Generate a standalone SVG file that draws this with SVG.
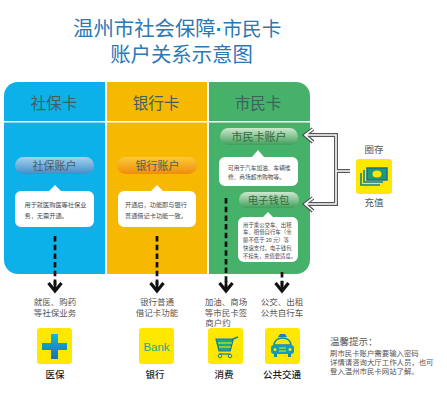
<svg xmlns="http://www.w3.org/2000/svg" width="447" height="400" viewBox="0 0 447 400">
<style>
text{font-family:"Noto Sans CJK SC","Liberation Sans",sans-serif;text-anchor:middle}
.title{font-size:20.4px;fill:#2b78b4}
.head{font-size:15.5px;fill:#3f5f62}
.pill{font-size:11px;fill:#4b5f63}
.body{font-size:6.2px;fill:#4a4a4a;text-anchor:start}
.lab{font-size:8.5px;fill:#555}
.name{font-size:9.5px;fill:#222;font-weight:500}
.tip{font-size:7.4px;fill:#555;text-anchor:start}
.box{fill:#fff}
.ico{fill:#ffe800}
.dash{fill:none;stroke:#111;stroke-width:2.7;stroke-dasharray:5.5 3.2;marker-end:url(#chev)}
.outer{fill:none;stroke:#555;stroke-width:4}
.inner{fill:none;stroke:#fff;stroke-width:1.6}
</style>
<defs>
<marker id="chev" markerUnits="userSpaceOnUse" markerWidth="18" markerHeight="18" refX="14" refY="9" orient="auto" overflow="visible">
<path d="M6 2.5L14 9L6 15.5" fill="none" stroke="#111" stroke-width="3.2"/>
<path d="M4 9H13" stroke="#111" stroke-width="2.7"/>
</marker>
<linearGradient id="gb" x1="0" y1="0" x2="0" y2="1"><stop offset="0" stop-color="#a5d2ee"/><stop offset="1" stop-color="#3f8fc9"/></linearGradient>
<linearGradient id="go" x1="0" y1="0" x2="0" y2="1"><stop offset="0" stop-color="#fbc93a"/><stop offset="1" stop-color="#f08c0a"/></linearGradient>
<linearGradient id="gg" x1="0" y1="0" x2="0" y2="1"><stop offset="0" stop-color="#cfe8cf"/><stop offset="1" stop-color="#3f9f5a"/></linearGradient>
<linearGradient id="gp" x1="0" y1="0" x2="0" y2="1"><stop offset="0" stop-color="#14b4e6"/><stop offset="1" stop-color="#1273b3"/></linearGradient>
</defs>

<g id="title">
<text class="title" x="73" y="35.5" style="text-anchor:start">温州市社会保障<tspan style="font-family:'Liberation Sans',sans-serif;font-weight:700">·</tspan><tspan style="font-size:19.6px">市民卡</tspan></text>
<text class="title" x="181.500" y="61.500">账户关系示意图</text>
</g>

<g id="node-social">
<path d="M4 96a14 14 0 0 1 14-14H105V274H18a14 14 0 0 1-14-14Z" fill="#0db1e9"/>
<rect x="4" y="121" width="101" height="1.500" fill="#fff"/>
<text class="head" x="54" y="108.500">社保卡</text>
<rect x="15" y="157" width="79" height="17" rx="8.500" fill="url(#gb)"/>
<text class="pill" x="54.500" y="169.500">社保账户</text>
<path class="box" d="M21 191H49L55 185L61 191H88a6 6 0 0 1 6 6V221a6 6 0 0 1-6 6H21a6 6 0 0 1-6-6V197a6 6 0 0 1 6-6Z"/>
<text class="body" y="207"><tspan x="24.500">用于就医购医等社保业</tspan><tspan x="24.500" dy="10.5">务，无需开通。</tspan></text>
</g>

<g id="node-bank">
<rect x="107" y="82" width="100" height="192" fill="#f6b800"/>
<rect x="107" y="121" width="100" height="1.500" fill="#fff"/>
<text class="head" x="156" y="108.500">银行卡</text>
<rect x="117" y="157" width="80" height="17" rx="8.500" fill="url(#go)"/>
<text class="pill" x="157.500" y="169.500">银行账户</text>
<path class="box" d="M124 191H151L157 185L163 191H190a6 6 0 0 1 6 6V221a6 6 0 0 1-6 6H124a6 6 0 0 1-6-6V197a6 6 0 0 1 6-6Z"/>
<text class="body" y="207"><tspan x="125">开通后，功能即与银行</tspan><tspan x="125" dy="10.5">普通借记卡功能一致。</tspan></text>
</g>

<g id="node-citizen">
<path d="M209 82H296a14 14 0 0 1 14 14V260a14 14 0 0 1-14 14H209Z" fill="#46b168"/>
<rect x="209" y="121" width="101" height="1.500" fill="#fff"/>
<text class="head" x="258" y="108.500">市民卡</text>
<rect x="220" y="128" width="78" height="17" rx="8.500" fill="url(#gg)"/>
<text class="pill" x="259" y="140.500" style="fill:#35683f">市民卡账户</text>
<path class="box" d="M225 157H252L258 150L264 157H292a6 6 0 0 1 6 6V180a6 6 0 0 1-6 6H225a6 6 0 0 1-6-6V163a6 6 0 0 1 6-6Z"/>
<text class="body" y="170" style="font-size:5.700px"><tspan x="228">可用于汽车加油、车辆维</tspan><tspan x="228" dy="8.5">修、商场超市购物等。</tspan></text>
<rect x="239" y="192" width="60" height="16" rx="8" fill="url(#gg)"/>
<text class="pill" x="268.500" y="204" style="font-size:10.400px;fill:#35683f">电子钱包</text>
<path class="box" d="M244 217H263L268 212L273 217H292a6 6 0 0 1 6 6V256a6 6 0 0 1-6 6H244a6 6 0 0 1-6-6V223a6 6 0 0 1 6-6Z"/>
<text class="body" y="226.500" style="font-size:5.400px"><tspan x="243">用于乘公交车、出租</tspan><tspan x="243" dy="7.8">车、租借自行车（余</tspan><tspan x="243" dy="7.8">额不低于 20 元）等</tspan><tspan x="243" dy="7.8">快速支付。电子钱包</tspan><tspan x="243" dy="7.8" style="font-size:5.300px">不挂失，充值要适度。</tspan></text>
</g>

<g id="connectors">
<path class="dash" d="M55 236V291"/>
<path class="dash" d="M157 236V291"/>
<path class="dash" d="M226 198V291"/>
<path class="dash" d="M282 272V291"/>
<path class="outer" d="M313 129L305 135L313 142M305 135H336V204H305M313 198L305 204L313 211M336 171H350"/>
<path class="inner" d="M313 129L305 135L313 142M305 135H336V204H305M313 198L305 204L313 211M336 171H350"/>
</g>

<g id="node-recharge">
<text class="lab" x="374" y="152.500" style="font-size:9.500px">圈存</text>
<rect class="ico" x="356" y="159" width="36" height="35" rx="3"/>
<path d="M361 173V185H380" fill="none" stroke="#0f7fa8" stroke-width="1.600"/>
<path d="M364 170V182H383" fill="none" stroke="#0f7fa8" stroke-width="1.600"/>
<rect x="367" y="168" width="20" height="12" fill="#1d9a7a" stroke="#106f9c" stroke-width="1.500"/>
<ellipse cx="377" cy="174" rx="4.500" ry="3.500" fill="#ffe800"/>
<text class="lab" x="374" y="206" style="font-size:9.500px">充值</text>
</g>

<g id="node-medical">
<text class="lab" x="55" y="305"><tspan x="55">就医、购药</tspan><tspan x="55" dy="11">等社保业务</tspan></text>
<rect class="ico" x="37" y="328" width="35" height="36" rx="3"/>
<path d="M51 334H58V343H67V350H58V359H51V350H42V343H51Z" fill="url(#gp)"/>
<text class="name" x="55" y="378">医保</text>
</g>

<g id="node-bankuse">
<text class="lab" y="305"><tspan x="157">银行普通</tspan><tspan x="157" dy="11">借记卡功能</tspan></text>
<rect class="ico" x="139" y="328" width="35" height="36" rx="3"/>
<text x="156.500" y="351" style="font-size:11.500px;fill:#2fa38a;font-family:'Liberation Sans',sans-serif">Bank</text>
<text class="name" x="155" y="378">银行</text>
</g>

<g id="node-consume">
<text class="lab" y="305"><tspan x="226">加油、商场</tspan><tspan x="226" dy="10.5">等市民卡签</tspan><tspan x="218" dy="10">商户约</tspan></text>
<rect class="ico" x="208" y="328" width="35" height="36" rx="3"/>
<path d="M216 339H233L230 351H219Z" fill="#22a585" stroke="#107fa0" stroke-width="1.200"/>
<path d="M230 351L233 339L238 337" fill="none" stroke="#107fa0" stroke-width="1.500"/>
<path d="M218 343H232M219 347H231" stroke="#ffe800" stroke-width="1"/>
<path d="M219 354H230" stroke="#107fa0" stroke-width="1.200"/>
<circle cx="220" cy="356" r="1.800" fill="#ffe800" stroke="#107fa0"/>
<circle cx="230" cy="356" r="1.800" fill="#ffe800" stroke="#107fa0"/>
<text class="name" x="224" y="378">消费</text>
</g>

<g id="node-transit">
<text class="lab" y="305"><tspan x="282">公交、出租</tspan><tspan x="282" dy="11">公共自行车</tspan></text>
<rect class="ico" x="265" y="328" width="35" height="36" rx="3"/>
<path d="M278 337L280 334H285L287 337Z" fill="#1a86a8"/>
<path d="M274 345Q275 338 282.500 338Q290 338 291 345Z" fill="none" stroke="#1a86a8" stroke-width="1.500"/>
<rect x="271" y="345" width="23" height="9" rx="3" fill="#109cc4"/>
<circle cx="275" cy="349.500" r="1.500" fill="#ffe800"/>
<circle cx="290" cy="349.500" r="1.500" fill="#ffe800"/>
<path d="M279 348H286M279 351H286" stroke="#ffe800" stroke-width="1"/>
<rect x="274" y="354" width="3" height="3" fill="#1a86a8"/>
<rect x="288" y="354" width="3" height="3" fill="#1a86a8"/>
<text class="name" x="282" y="378">公共交通</text>
</g>

<g id="tips">
<text class="tip" y="345"><tspan x="330" style="font-size:9.500px">温馨提示：</tspan><tspan x="330" dy="10.5">刷市民卡账户需要输入密码</tspan><tspan x="330" dy="9.5">详情请咨询大厅工作人员，也可</tspan><tspan x="330" dy="9">登入温州市民卡网站了解。</tspan></text>
</g>
</svg>
